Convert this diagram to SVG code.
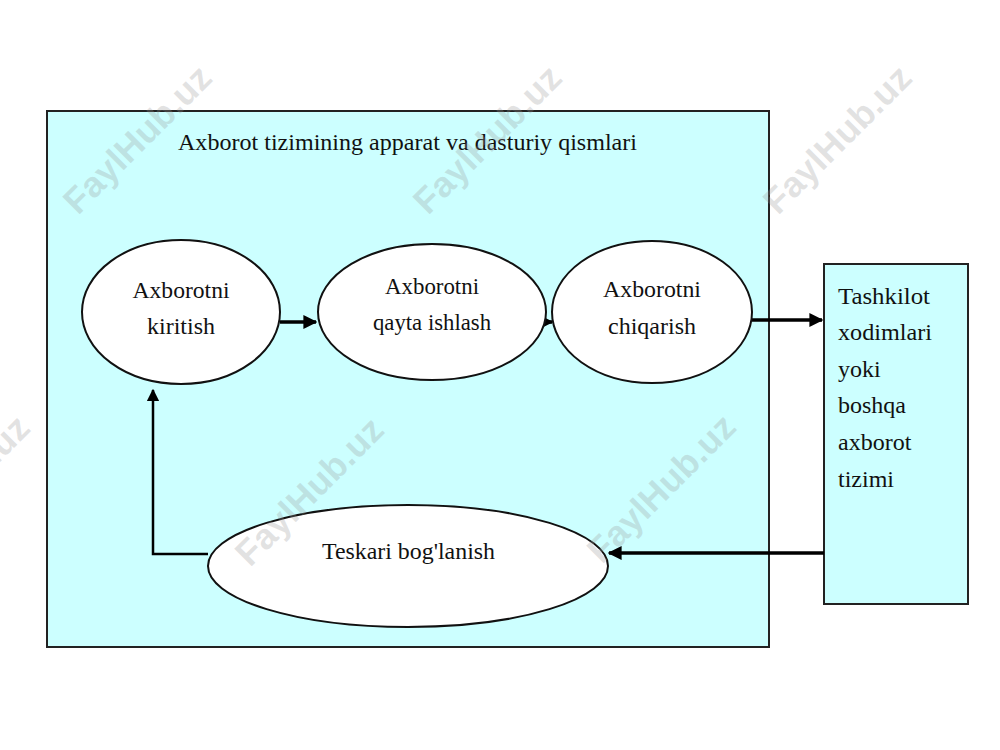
<svg xmlns="http://www.w3.org/2000/svg" width="1000" height="750" viewBox="0 0 1000 750">
<style>
.box{fill:#ccffff;stroke:#222;stroke-width:2}
.node{fill:#fff;stroke:#111;stroke-width:2}
.t{font-family:"Liberation Serif","Times New Roman",serif;font-size:24px;fill:#111}
.c{text-anchor:middle}
.conn{stroke:#000;stroke-width:3.5;fill:none}
.thin{stroke:#000;stroke-width:2.5;fill:none}
.wm{font-family:"Liberation Sans",Arial,sans-serif;font-weight:bold;font-size:36px;fill:#9a9a9a;fill-opacity:0.28;text-anchor:middle}
</style>
<defs>
<marker id="ah" viewBox="0 0 10 10" refX="9" refY="5" markerWidth="4" markerHeight="4" markerUnits="strokeWidth" orient="auto">
<path d="M0,0 L10,5 L0,10 z" fill="#000"/>
</marker>
<marker id="ah2" viewBox="0 0 10 10" refX="9" refY="5" markerWidth="5" markerHeight="5" markerUnits="strokeWidth" orient="auto">
<path d="M0,0 L10,5 L0,10 z" fill="#000"/>
</marker>
</defs>
<rect width="1000" height="750" fill="#fff"/>
<g id="system">
<rect class="box" x="47" y="111" width="722" height="536"/>
<text class="t" x="178" y="150" textLength="459" lengthAdjust="spacingAndGlyphs">Axborot tizimining apparat va dasturiy qismlari</text>
</g>
<g id="external">
<rect class="box" x="824" y="264" width="144" height="340"/>
<text class="t" x="838" y="304" textLength="92" lengthAdjust="spacingAndGlyphs">Tashkilot</text>
<text class="t" x="838" y="340" textLength="94" lengthAdjust="spacingAndGlyphs">xodimlari</text>
<text class="t" x="838" y="377">yoki</text>
<text class="t" x="838" y="413">boshqa</text>
<text class="t" x="838" y="450">axborot</text>
<text class="t" x="838" y="487">tizimi</text>
</g>
<g id="connectors">
<line class="conn" x1="280" y1="322" x2="316" y2="322" marker-end="url(#ah)"/>
<line class="conn" x1="545" y1="322" x2="552" y2="322" marker-end="url(#ah)"/>
<line class="conn" x1="752" y1="320" x2="822" y2="320" marker-end="url(#ah)"/>
<line class="conn" x1="824" y1="553" x2="609" y2="553" marker-end="url(#ah)"/>
<polyline class="thin" points="208,554 153,554 153,390" marker-end="url(#ah2)"/>
</g>
<g id="input">
<ellipse class="node" cx="181" cy="312" rx="99" ry="72"/>
<text class="t c" x="181" y="298" textLength="97" lengthAdjust="spacingAndGlyphs">Axborotni</text>
<text class="t c" x="181" y="334">kiritish</text>
</g>
<g id="process">
<ellipse class="node" cx="432" cy="312" rx="114" ry="68"/>
<text class="t c" x="432" y="294" textLength="94" lengthAdjust="spacingAndGlyphs">Axborotni</text>
<text class="t c" x="432" y="330" textLength="118" lengthAdjust="spacingAndGlyphs">qayta ishlash</text>
</g>
<g id="output">
<ellipse class="node" cx="652" cy="312" rx="100" ry="71"/>
<text class="t c" x="652" y="297" textLength="98" lengthAdjust="spacingAndGlyphs">Axborotni</text>
<text class="t c" x="652" y="334">chiqarish</text>
</g>
<g id="feedback">
<ellipse class="node" cx="408" cy="566" rx="200" ry="61"/>
<text class="t" x="322" y="559" textLength="173" lengthAdjust="spacingAndGlyphs">Teskari bog'lanish</text>
</g>
<g id="watermarks">
<text class="wm" transform="translate(146,148) rotate(-45)">FaylHub.uz</text>
<text class="wm" transform="translate(496,148) rotate(-45)">FaylHub.uz</text>
<text class="wm" transform="translate(846,148) rotate(-45)">FaylHub.uz</text>
<text class="wm" transform="translate(-36,498) rotate(-45)">FaylHub.uz</text>
<text class="wm" transform="translate(318,500) rotate(-45)">FaylHub.uz</text>
<text class="wm" transform="translate(670,497) rotate(-45)">FaylHub.uz</text>
</g>
</svg>
